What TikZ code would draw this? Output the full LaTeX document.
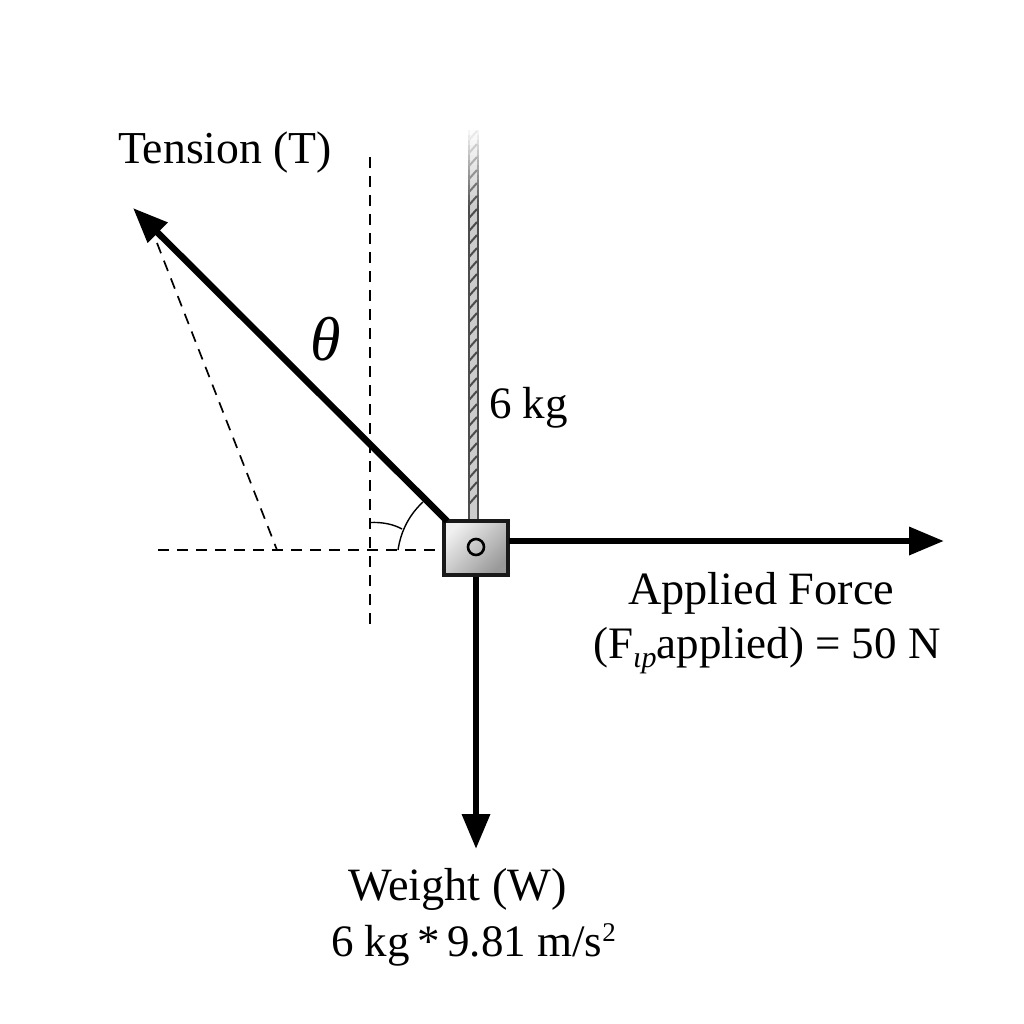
\documentclass[tikz,border=0pt]{standalone}
\usepackage{fontspec}
\setmainfont{Liberation Serif}
\usetikzlibrary{arrows.meta}
\tikzset{
  px/.style={x=1pt,y=-1pt},
  force/.style={line width=6.5pt,-{Triangle[length=35pt,width=27pt]},shorten >=0pt},
  guide/.style={line width=1.7pt,dash pattern=on 11pt off 8pt},
  anglemark/.style={line width=1.4pt},
  label/.style={inner sep=0pt,anchor=base west,font=\fontsize{45}{50}\selectfont},
  biglabel/.style={label,font=\fontsize{46.3}{50}\selectfont},
  block/.style={draw=black!90,line width=3.2pt,minimum width=64pt,minimum height=54pt,inner sep=0pt,top color=black!6,bottom color=black!40,shading angle=45},
  pin/.style={circle,draw=black,line width=2.6pt,minimum size=16pt,inner sep=0pt,fill=none}
}
\definecolor{ropefill}{gray}{0.80}
\begin{document}
\begin{tikzpicture}[px]
\useasboundingbox (0,0) rectangle (1024,1024);
\fill[white] (0,0) rectangle (1024,1024);
% rope
\foreach \y [evaluate=\y as \k using {min(100,max(0,(\y-125)*1.25))}, evaluate=\y as \ny using {\y+5}] in {125,130,...,515}{
  \fill[ropefill!\k!white] (468,\y) rectangle (478,\ny);
  \fill[black!70!white!\k!white] (467.5,\y) rectangle (469.5,\ny);
  \fill[black!70!white!\k!white] (476.5,\y) rectangle (478.5,\ny);
}
\foreach \y [evaluate=\y as \k using {min(100,max(0,(\y-130)*1.25))}] in {140,153,...,516}{
  \draw[black!70!white!\k!white,line width=2pt] (469,\y) -- (477,\y-9);
}
% guides
\coordinate (vtop) at (370,157);
\coordinate (vbot) at (370,625);
\coordinate (hleft) at (158,550);
\coordinate (hright) at (442,550);
\coordinate (sltop) at (157,243);
\coordinate (slbot) at (277,550);
\draw[guide] (vtop) -- (vbot);
\draw[guide] (hleft) -- (hright);
\draw[guide] (sltop) -- (slbot);
% block
\node[block] (box) at (476,548) {};
\node[pin] (hole) at (476,547) {};
% forces
\coordinate (ttip) at (133,208);
\coordinate (tbase) at (447,521);
\coordinate (ftip) at (944,541);
\coordinate (fbase) at (509,541);
\coordinate (wtip) at (476,849);
\coordinate (wbase) at (476,577);
\draw[force] (tbase) -- (ttip);
\draw[force] (fbase) -- (ftip);
\draw[force] (wbase) -- (wtip);
% angle arcs
\coordinate (a1) at (398,550);
\coordinate (a2) at (423,502);
\coordinate (b1) at (370,522.5);
\coordinate (b2) at (402,529);
\draw[anglemark] (a1) .. controls (401,530) and (410,514) .. (a2);
\draw[anglemark] (b1) .. controls (382,522) and (393,524) .. (b2);
% labels
\node[label,font=\fontsize{45.7}{50}\selectfont] (tension) at (118,164) {Tension (T)};
\node[label,font=\fontsize{62}{66}\selectfont\itshape] (theta) at (310,360) {θ};
\node[label] (rope) at (489,418) {6 kg};
\node[biglabel] (af1) at (628,604) {Applied Force};
\node[label] (af2) at (593,658) {(F\raisebox{-9pt}{\fontsize{30}{32}\selectfont\itshape ιp}applied) = 50 N};
\node[biglabel] (w1) at (348,900) {Weight (W)};
\node[label] (w2) at (331,956) {6 kg\,*\,9.81 m/s\raisebox{15pt}{\fontsize{27}{30}\selectfont 2}};
\end{tikzpicture}
\end{document}
